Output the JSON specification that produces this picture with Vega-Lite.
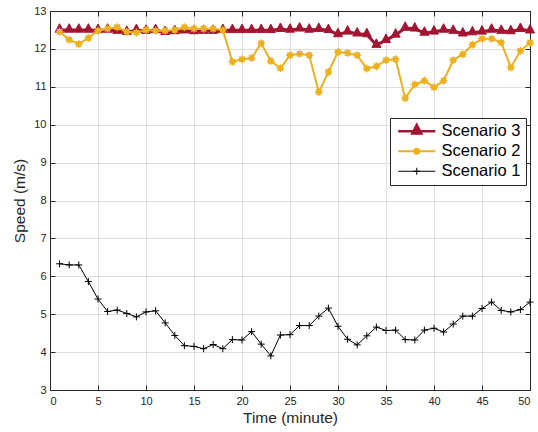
{
  "$schema": "https://vega.github.io/schema/vega-lite/v6.json",
  "width": 480,
  "height": 379,
  "autosize": {"type": "none"},
  "padding": {"left": 50, "top": 11, "right": 8, "bottom": 42},
  "config": {
    "font": "Liberation Sans",
    "view": {"stroke": null},
    "axis": {
      "domainColor": "#262626",
      "tickColor": "#262626",
      "labelColor": "#262626",
      "titleColor": "#262626",
      "labelFont": "Liberation Sans",
      "titleFont": "Liberation Sans",
      "labelFontSize": 11,
      "titleFontSize": 15.5,
      "titleFontWeight": "normal",
      "gridColor": "#dedede",
      "gridOpacity": 1,
      "tickSize": -5,
      "domainWidth": 1
    }
  },
  "data": {
    "values": [
      {"time": 1, "series": "Scenario 3", "speed": 12.5},
      {"time": 2, "series": "Scenario 3", "speed": 12.5},
      {"time": 3, "series": "Scenario 3", "speed": 12.5},
      {"time": 4, "series": "Scenario 3", "speed": 12.5},
      {"time": 5, "series": "Scenario 3", "speed": 12.49},
      {"time": 6, "series": "Scenario 3", "speed": 12.5},
      {"time": 7, "series": "Scenario 3", "speed": 12.47},
      {"time": 8, "series": "Scenario 3", "speed": 12.44},
      {"time": 9, "series": "Scenario 3", "speed": 12.49},
      {"time": 10, "series": "Scenario 3", "speed": 12.47},
      {"time": 11, "series": "Scenario 3", "speed": 12.49},
      {"time": 12, "series": "Scenario 3", "speed": 12.44},
      {"time": 13, "series": "Scenario 3", "speed": 12.46},
      {"time": 14, "series": "Scenario 3", "speed": 12.48},
      {"time": 15, "series": "Scenario 3", "speed": 12.46},
      {"time": 16, "series": "Scenario 3", "speed": 12.47},
      {"time": 17, "series": "Scenario 3", "speed": 12.47},
      {"time": 18, "series": "Scenario 3", "speed": 12.49},
      {"time": 19, "series": "Scenario 3", "speed": 12.49},
      {"time": 20, "series": "Scenario 3", "speed": 12.49},
      {"time": 21, "series": "Scenario 3", "speed": 12.49},
      {"time": 22, "series": "Scenario 3", "speed": 12.49},
      {"time": 23, "series": "Scenario 3", "speed": 12.49},
      {"time": 24, "series": "Scenario 3", "speed": 12.52},
      {"time": 25, "series": "Scenario 3", "speed": 12.5},
      {"time": 26, "series": "Scenario 3", "speed": 12.53},
      {"time": 27, "series": "Scenario 3", "speed": 12.5},
      {"time": 28, "series": "Scenario 3", "speed": 12.52},
      {"time": 29, "series": "Scenario 3", "speed": 12.49},
      {"time": 30, "series": "Scenario 3", "speed": 12.38},
      {"time": 31, "series": "Scenario 3", "speed": 12.45},
      {"time": 32, "series": "Scenario 3", "speed": 12.4},
      {"time": 33, "series": "Scenario 3", "speed": 12.38},
      {"time": 34, "series": "Scenario 3", "speed": 12.1},
      {"time": 35, "series": "Scenario 3", "speed": 12.23},
      {"time": 36, "series": "Scenario 3", "speed": 12.37},
      {"time": 37, "series": "Scenario 3", "speed": 12.55},
      {"time": 38, "series": "Scenario 3", "speed": 12.53},
      {"time": 39, "series": "Scenario 3", "speed": 12.42},
      {"time": 40, "series": "Scenario 3", "speed": 12.45},
      {"time": 41, "series": "Scenario 3", "speed": 12.5},
      {"time": 42, "series": "Scenario 3", "speed": 12.47},
      {"time": 43, "series": "Scenario 3", "speed": 12.4},
      {"time": 44, "series": "Scenario 3", "speed": 12.43},
      {"time": 45, "series": "Scenario 3", "speed": 12.45},
      {"time": 46, "series": "Scenario 3", "speed": 12.5},
      {"time": 47, "series": "Scenario 3", "speed": 12.47},
      {"time": 48, "series": "Scenario 3", "speed": 12.46},
      {"time": 49, "series": "Scenario 3", "speed": 12.52},
      {"time": 50, "series": "Scenario 3", "speed": 12.48},
      {"time": 1, "series": "Scenario 2", "speed": 12.45},
      {"time": 2, "series": "Scenario 2", "speed": 12.24},
      {"time": 3, "series": "Scenario 2", "speed": 12.13},
      {"time": 4, "series": "Scenario 2", "speed": 12.29},
      {"time": 5, "series": "Scenario 2", "speed": 12.48},
      {"time": 6, "series": "Scenario 2", "speed": 12.53},
      {"time": 7, "series": "Scenario 2", "speed": 12.57},
      {"time": 8, "series": "Scenario 2", "speed": 12.45},
      {"time": 9, "series": "Scenario 2", "speed": 12.43},
      {"time": 10, "series": "Scenario 2", "speed": 12.5},
      {"time": 11, "series": "Scenario 2", "speed": 12.48},
      {"time": 12, "series": "Scenario 2", "speed": 12.48},
      {"time": 13, "series": "Scenario 2", "speed": 12.5},
      {"time": 14, "series": "Scenario 2", "speed": 12.57},
      {"time": 15, "series": "Scenario 2", "speed": 12.53},
      {"time": 16, "series": "Scenario 2", "speed": 12.53},
      {"time": 17, "series": "Scenario 2", "speed": 12.53},
      {"time": 18, "series": "Scenario 2", "speed": 12.5},
      {"time": 19, "series": "Scenario 2", "speed": 11.66},
      {"time": 20, "series": "Scenario 2", "speed": 11.73},
      {"time": 21, "series": "Scenario 2", "speed": 11.76},
      {"time": 22, "series": "Scenario 2", "speed": 12.15},
      {"time": 23, "series": "Scenario 2", "speed": 11.68},
      {"time": 24, "series": "Scenario 2", "speed": 11.49},
      {"time": 25, "series": "Scenario 2", "speed": 11.83},
      {"time": 26, "series": "Scenario 2", "speed": 11.87},
      {"time": 27, "series": "Scenario 2", "speed": 11.83},
      {"time": 28, "series": "Scenario 2", "speed": 10.86},
      {"time": 29, "series": "Scenario 2", "speed": 11.39},
      {"time": 30, "series": "Scenario 2", "speed": 11.92},
      {"time": 31, "series": "Scenario 2", "speed": 11.89},
      {"time": 32, "series": "Scenario 2", "speed": 11.83},
      {"time": 33, "series": "Scenario 2", "speed": 11.48},
      {"time": 34, "series": "Scenario 2", "speed": 11.54},
      {"time": 35, "series": "Scenario 2", "speed": 11.7},
      {"time": 36, "series": "Scenario 2", "speed": 11.73},
      {"time": 37, "series": "Scenario 2", "speed": 10.7},
      {"time": 38, "series": "Scenario 2", "speed": 11.06},
      {"time": 39, "series": "Scenario 2", "speed": 11.16},
      {"time": 40, "series": "Scenario 2", "speed": 10.99},
      {"time": 41, "series": "Scenario 2", "speed": 11.16},
      {"time": 42, "series": "Scenario 2", "speed": 11.7},
      {"time": 43, "series": "Scenario 2", "speed": 11.86},
      {"time": 44, "series": "Scenario 2", "speed": 12.11},
      {"time": 45, "series": "Scenario 2", "speed": 12.27},
      {"time": 46, "series": "Scenario 2", "speed": 12.27},
      {"time": 47, "series": "Scenario 2", "speed": 12.17},
      {"time": 48, "series": "Scenario 2", "speed": 11.51},
      {"time": 49, "series": "Scenario 2", "speed": 11.95},
      {"time": 50, "series": "Scenario 2", "speed": 12.16},
      {"time": 1, "series": "Scenario 1", "speed": 6.33},
      {"time": 2, "series": "Scenario 1", "speed": 6.3},
      {"time": 3, "series": "Scenario 1", "speed": 6.3},
      {"time": 4, "series": "Scenario 1", "speed": 5.86},
      {"time": 5, "series": "Scenario 1", "speed": 5.4},
      {"time": 6, "series": "Scenario 1", "speed": 5.07},
      {"time": 7, "series": "Scenario 1", "speed": 5.11},
      {"time": 8, "series": "Scenario 1", "speed": 5.02},
      {"time": 9, "series": "Scenario 1", "speed": 4.93},
      {"time": 10, "series": "Scenario 1", "speed": 5.06},
      {"time": 11, "series": "Scenario 1", "speed": 5.09},
      {"time": 12, "series": "Scenario 1", "speed": 4.77},
      {"time": 13, "series": "Scenario 1", "speed": 4.44},
      {"time": 14, "series": "Scenario 1", "speed": 4.17},
      {"time": 15, "series": "Scenario 1", "speed": 4.15},
      {"time": 16, "series": "Scenario 1", "speed": 4.09},
      {"time": 17, "series": "Scenario 1", "speed": 4.2},
      {"time": 18, "series": "Scenario 1", "speed": 4.09},
      {"time": 19, "series": "Scenario 1", "speed": 4.33},
      {"time": 20, "series": "Scenario 1", "speed": 4.32},
      {"time": 21, "series": "Scenario 1", "speed": 4.54},
      {"time": 22, "series": "Scenario 1", "speed": 4.21},
      {"time": 23, "series": "Scenario 1", "speed": 3.9},
      {"time": 24, "series": "Scenario 1", "speed": 4.45},
      {"time": 25, "series": "Scenario 1", "speed": 4.46},
      {"time": 26, "series": "Scenario 1", "speed": 4.7},
      {"time": 27, "series": "Scenario 1", "speed": 4.7},
      {"time": 28, "series": "Scenario 1", "speed": 4.95},
      {"time": 29, "series": "Scenario 1", "speed": 5.16},
      {"time": 30, "series": "Scenario 1", "speed": 4.68},
      {"time": 31, "series": "Scenario 1", "speed": 4.34},
      {"time": 32, "series": "Scenario 1", "speed": 4.19},
      {"time": 33, "series": "Scenario 1", "speed": 4.43},
      {"time": 34, "series": "Scenario 1", "speed": 4.66},
      {"time": 35, "series": "Scenario 1", "speed": 4.57},
      {"time": 36, "series": "Scenario 1", "speed": 4.58},
      {"time": 37, "series": "Scenario 1", "speed": 4.33},
      {"time": 38, "series": "Scenario 1", "speed": 4.32},
      {"time": 39, "series": "Scenario 1", "speed": 4.58},
      {"time": 40, "series": "Scenario 1", "speed": 4.63},
      {"time": 41, "series": "Scenario 1", "speed": 4.53},
      {"time": 42, "series": "Scenario 1", "speed": 4.74},
      {"time": 43, "series": "Scenario 1", "speed": 4.95},
      {"time": 44, "series": "Scenario 1", "speed": 4.95},
      {"time": 45, "series": "Scenario 1", "speed": 5.15},
      {"time": 46, "series": "Scenario 1", "speed": 5.32},
      {"time": 47, "series": "Scenario 1", "speed": 5.1},
      {"time": 48, "series": "Scenario 1", "speed": 5.06},
      {"time": 49, "series": "Scenario 1", "speed": 5.12},
      {"time": 50, "series": "Scenario 1", "speed": 5.32}
    ]
  },
  "layer": [
    {
      "transform": [{"filter": "datum.series === 'Scenario 3'"}],
      "mark": {"type": "line", "strokeWidth": 3, "clip": true},
      "encoding": {
        "x": {"field": "time", "type": "quantitative", "scale": {"domain": [0, 50], "nice": false},
          "axis": {"orient": "bottom", "values": [0,5,10,15,20,25,30,35,40,45,50], "grid": true, "title": "Time (minute)", "labelPadding": 10, "titlePadding": 4}},
        "y": {"field": "speed", "type": "quantitative", "scale": {"domain": [3, 13], "nice": false, "zero": false},
          "axis": {"orient": "left", "values": [3,4,5,6,7,8,9,10,11,12,13], "grid": true, "title": "Speed (m/s)", "labelPadding": 9, "titlePadding": 6}},
        "color": {"field": "series", "type": "nominal",
          "scale": {"domain": ["Scenario 3", "Scenario 2", "Scenario 1"], "range": ["#A2142F", "#EDB120", "#000000"]},
          "legend": {
            "orient": "none", "legendX": 340, "legendY": 107,
            "title": null,
            "strokeColor": "#262626", "fillColor": "#ffffff",
            "padding": 5,
            "labelFont": "Liberation Sans", "labelFontSize": 16.5, "labelColor": "#000000",
            "symbolSize": 100, "labelOffset": 30, "rowPadding": 3,
            "encode": {
              "symbols": {"update": {
                "shape": {"signal": "datum.value === 'Scenario 3' ? 'M-1,0H6.4M2.7,-1.25L3.6,0.45L1.8,0.45Z' : datum.value === 'Scenario 2' ? 'M-1,0H6.4M2.2,0A0.5,0.5 0 1,0 3.2,0A0.5,0.5 0 1,0 2.2,0Z' : 'M-1,0H6.4M2.7,-0.7V0.7M2,0H3.4'"},
                "fill": {"signal": "datum.value === 'Scenario 3' ? '#A2142F' : datum.value === 'Scenario 2' ? '#EDB120' : 'transparent'"},
                "stroke": {"signal": "datum.value === 'Scenario 3' ? '#A2142F' : datum.value === 'Scenario 2' ? '#EDB120' : '#000000'"},
                "strokeWidth": {"signal": "datum.value === 'Scenario 3' ? 2.5 : datum.value === 'Scenario 2' ? 2 : 1"},
                "opacity": {"value": 1}
              }}
            }
          }
        }
      }
    },
    {
      "transform": [{"filter": "datum.series === 'Scenario 3'"}],
      "mark": {"type": "point", "filled": true, "opacity": 1, "size": 100, "color": "#A2142F", "stroke": "#A2142F", "strokeWidth": 1,
        "shape": "M0,-1.25L0.9,0.45L-0.9,0.45Z"},
      "encoding": {
        "x": {"field": "time", "type": "quantitative", "scale": {"domain": [0, 50], "nice": false},
          "axis": {"orient": "top", "values": [0,5,10,15,20,25,30,35,40,45,50], "grid": false, "labels": false, "title": null}},
        "y": {"field": "speed", "type": "quantitative", "scale": {"domain": [3, 13], "nice": false, "zero": false},
          "axis": {"orient": "right", "values": [3,4,5,6,7,8,9,10,11,12,13], "grid": false, "labels": false, "title": null}}
      }
    },
    {
      "transform": [{"filter": "datum.series === 'Scenario 2'"}],
      "mark": {"type": "line", "strokeWidth": 2},
      "encoding": {
        "x": {"field": "time", "type": "quantitative", "axis": null},
        "y": {"field": "speed", "type": "quantitative", "axis": null},
        "color": {"field": "series", "type": "nominal"}
      }
    },
    {
      "transform": [{"filter": "datum.series === 'Scenario 2'"}],
      "mark": {"type": "point", "filled": true, "opacity": 1, "size": 64, "color": "#EDB120", "stroke": "#EDB120", "strokeWidth": 1.2,
        "shape": "M-0.6,0A0.6,0.6 0 1,0 0.6,0A0.6,0.6 0 1,0 -0.6,0ZM-1,0H1M0,-1V1M-0.7,-0.7L0.7,0.7M-0.7,0.7L0.7,-0.7"},
      "encoding": {
        "x": {"field": "time", "type": "quantitative", "axis": null},
        "y": {"field": "speed", "type": "quantitative", "axis": null}
      }
    },
    {
      "transform": [{"filter": "datum.series === 'Scenario 1'"}],
      "mark": {"type": "line", "strokeWidth": 1},
      "encoding": {
        "x": {"field": "time", "type": "quantitative", "axis": null},
        "y": {"field": "speed", "type": "quantitative", "axis": null},
        "color": {"field": "series", "type": "nominal"}
      }
    },
    {
      "transform": [{"filter": "datum.series === 'Scenario 1'"}],
      "mark": {"type": "point", "filled": false, "opacity": 1, "size": 49, "color": "#000000", "strokeWidth": 1,
        "shape": "M-1,0H1M0,-1V1"},
      "encoding": {
        "x": {"field": "time", "type": "quantitative", "axis": null},
        "y": {"field": "speed", "type": "quantitative", "axis": null}
      }
    }
  ],
  "resolve": {"axis": {"x": "independent", "y": "independent"}}
}
